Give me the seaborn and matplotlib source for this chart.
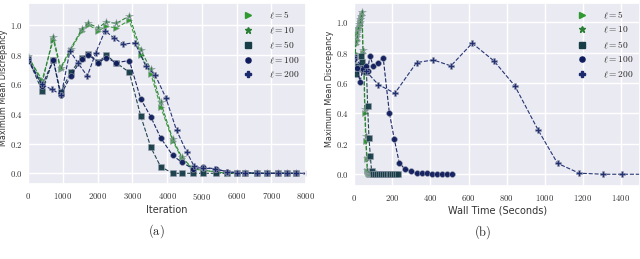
import numpy as np
import pandas as pd
import matplotlib
matplotlib.use("Agg")
import matplotlib.pyplot as plt
from matplotlib.lines import Line2D
from matplotlib.ticker import FuncFormatter
import seaborn as sns

# Series labels / styles
labels = [r'$\ell = 5$', r'$\ell = 10$', r'$\ell = 50$', r'$\ell = 100$', r'$\ell = 200$']
markers = ['>', '*', 's', 'o', 'P']
colors = ['#2f9a2f', '#2a7f35', '#173d47', '#0f1c5c', '#1b2a6e']
msizes = [4.5, 5.5, 4.2, 4.2, 4.8]

# --- (a) MMD vs iteration ---
iters = [0, 400, 720, 930, 1220, 1540, 1730, 2020, 2240, 2530, 2910, 3240, 3530, 3810,
         4160, 4420, 4740, 5040, 5400, 5720, 6010, 6250, 6590, 6880, 7200, 7460, 7720]
iters_200 = [0, 390, 675, 950, 1200, 1440, 1700, 1940, 2210, 2480, 2740, 3070, 3390, 3650,
             3960, 4270, 4560, 4770, 5020, 5380, 5720, 6010, 6250, 6590, 6880, 7200, 7460,
             7720, 8000]

mmd_it_5 = [0.78, 0.63, 0.90, 0.70, 0.83, 0.96, 1.00, 0.96, 0.99, 0.98, 1.03, 0.80, 0.67, 0.45,
            0.22, 0.10, 0.03, 0.02, 0.01, 0.0, 0.0, 0.0, 0.0, 0.0, 0.0, 0.0, 0.0]
mmd_it_10 = [0.79, 0.61, 0.92, 0.71, 0.84, 0.97, 1.01, 0.98, 1.02, 1.01, 1.06, 0.83, 0.70, 0.48,
             0.23, 0.11, 0.03, 0.02, 0.01, 0.0, 0.0, 0.0, 0.0, 0.0, 0.0, 0.0, 0.0]
mmd_it_50 = [0.77, 0.555, 0.765, 0.545, 0.68, 0.78, 0.805, 0.75, 0.795, 0.745, 0.68, 0.385, 0.175,
             0.045, 0.0, 0.0, 0.0, 0.0, 0.0, 0.0, 0.0, 0.0, 0.0, 0.0, 0.0, 0.0, 0.0]
mmd_it_100 = [0.76, 0.59, 0.765, 0.525, 0.655, 0.77, 0.80, 0.745, 0.78, 0.745, 0.76, 0.50, 0.38,
              0.24, 0.12, 0.075, 0.03, 0.04, 0.03, 0.01, 0.005, 0.005, 0.0, 0.0, 0.0, 0.0, 0.0]
mmd_it_200 = [0.77, 0.60, 0.565, 0.53, 0.825, 0.74, 0.655, 0.81, 0.96, 0.91, 0.87, 0.88, 0.72,
              0.665, 0.51, 0.29, 0.145, 0.05, 0.035, 0.03, 0.01, 0.005, 0.005, 0.0, 0.0, 0.0,
              0.0, 0.0, 0.0]

# --- (b) MMD vs wall time ---
time_5 = [0, 4, 8, 12, 16, 20, 24, 28, 32, 36, 40, 45, 50, 55, 60, 65, 68, 71, 76, 82, 88, 94,
          100, 106, 112]
mmd_t_5 = [0.76, 0.80, 0.86, 0.88, 0.92, 0.95, 0.96, 0.98, 1.00, 1.03, 1.05, 0.80, 0.68, 0.40,
           0.22, 0.10, 0.02, 0.01, 0.0, 0.0, 0.0, 0.0, 0.0, 0.0, 0.0]
time_10 = [0, 4, 8, 12, 16, 20, 24, 28, 32, 36, 41, 46, 51, 56, 61, 66, 69, 72, 77, 83, 89, 95,
           101, 107, 113]
mmd_t_10 = [0.78, 0.75, 0.87, 0.90, 0.93, 0.96, 0.99, 1.00, 1.02, 1.04, 1.07, 0.82, 0.70, 0.43,
            0.25, 0.11, 0.03, 0.01, 0.0, 0.0, 0.0, 0.0, 0.0, 0.0, 0.0]
time_50 = [0, 8, 15, 22, 28, 35, 40, 46, 52, 58, 64, 70, 77, 84, 91, 100, 110, 120, 130, 140,
           150, 160, 170, 180, 190, 200, 210, 220, 230]
mmd_t_50 = [0.77, 0.66, 0.70, 0.71, 0.70, 0.78, 0.74, 0.69, 0.70, 0.68, 0.67, 0.45, 0.24, 0.12,
            0.02, 0.0, 0.0, 0.0, 0.0, 0.0, 0.0, 0.0, 0.0, 0.0, 0.0, 0.0, 0.0, 0.0, 0.0]
time_100 = [0, 15, 30, 45, 61, 70, 82, 100, 123, 152, 184, 210, 236, 266, 296, 327, 354, 380,
            406, 432, 459, 485, 514]
mmd_t_100 = [0.76, 0.70, 0.61, 0.69, 0.715, 0.68, 0.78, 0.71, 0.735, 0.763, 0.405, 0.23, 0.076,
             0.033, 0.022, 0.005, 0.005, 0.005, 0.003, 0.0, 0.0, 0.0, 0.003]
time_200 = [0, 60, 126, 213, 327, 415, 507, 619, 733, 843, 966, 1067, 1181, 1307, 1403, 1520]
mmd_t_200 = [0.77, 0.68, 0.59, 0.533, 0.735, 0.752, 0.713, 0.862, 0.746, 0.581, 0.289, 0.072,
             0.007, 0.0, 0.0, 0.0]

sns.set_theme(style="darkgrid")
plt.rcParams['font.family'] = ['DejaVu Sans']
plt.rcParams['mathtext.fontset'] = 'cm'

fig = plt.figure(figsize=(6.4, 2.59), dpi=100)
ax1 = fig.add_axes([0.0442, 0.2896, 0.434, 0.698])
ax2 = fig.add_axes([0.5536, 0.282, 0.4464, 0.7066])

left_sets = [(iters, mmd_it_5), (iters, mmd_it_10), (iters, mmd_it_50),
             (iters, mmd_it_100), (iters_200, mmd_it_200)]
right_sets = [(time_5, mmd_t_5), (time_10, mmd_t_10), (time_50, mmd_t_50),
              (time_100, mmd_t_100), (time_200, mmd_t_200)]

for ax, sets in [(ax1, left_sets), (ax2, right_sets)]:
    for i, (xs, ys) in enumerate(sets):
        df = pd.DataFrame({'x': xs, 'y': ys})
        sns.lineplot(data=df, x='x', y='y', ax=ax, color=colors[i], marker=markers[i],
                     markersize=msizes[i], linestyle='--', linewidth=0.8,
                     markeredgewidth=0.4, markeredgecolor='#9aa0b0', alpha=0.95)

mfmt_int = FuncFormatter(lambda v, p: r'$%d$' % v)
mfmt_y = FuncFormatter(lambda v, p: r'$%.1f$' % v)

ax1.set_xlim(0, 8000)
ax1.set_ylim(-0.072, 1.146)
ax1.set_xticks(np.arange(0, 8001, 1000))
ax2.set_xlim(0, 1500)
ax2.set_ylim(-0.077, 1.127)
ax2.set_xticks(np.arange(0, 1401, 200))

for ax in [ax1, ax2]:
    xl = 'Iteration' if ax is ax1 else 'Wall Time (Seconds)'
    ax.set_yticks(np.arange(0, 1.01, 0.2))
    ax.xaxis.set_major_formatter(mfmt_int)
    ax.yaxis.set_major_formatter(mfmt_y)
    ax.tick_params(labelsize=6.3, colors='#333333', length=0, pad=5)
    ax.tick_params(axis='y', pad=4.2)
    ax.set_xlabel(xl, fontsize=7, color='#333333', labelpad=2)
    ax.set_ylabel('Maximum Mean Discrepancy', fontsize=5.8, color='#333333')
    ax.yaxis.set_label_coords(-0.072, 0.53)
    handles = [Line2D([], [], marker=markers[i], color=colors[i], linestyle='none',
                      markersize=msizes[i] - 0.5) for i in range(5)]
    ax.legend(handles, labels, loc='upper right', frameon=False, fontsize=6.8,
              handletextpad=1.2, labelspacing=0.45, borderaxespad=0.3)

fig.text(0.245, 0.108, r'$\mathrm{(a)}$', fontsize=9, ha='center', va='center')
fig.text(0.755, 0.104, r'$\mathrm{(b)}$', fontsize=9, ha='center', va='center')

fig.savefig('out.png', dpi=100)
